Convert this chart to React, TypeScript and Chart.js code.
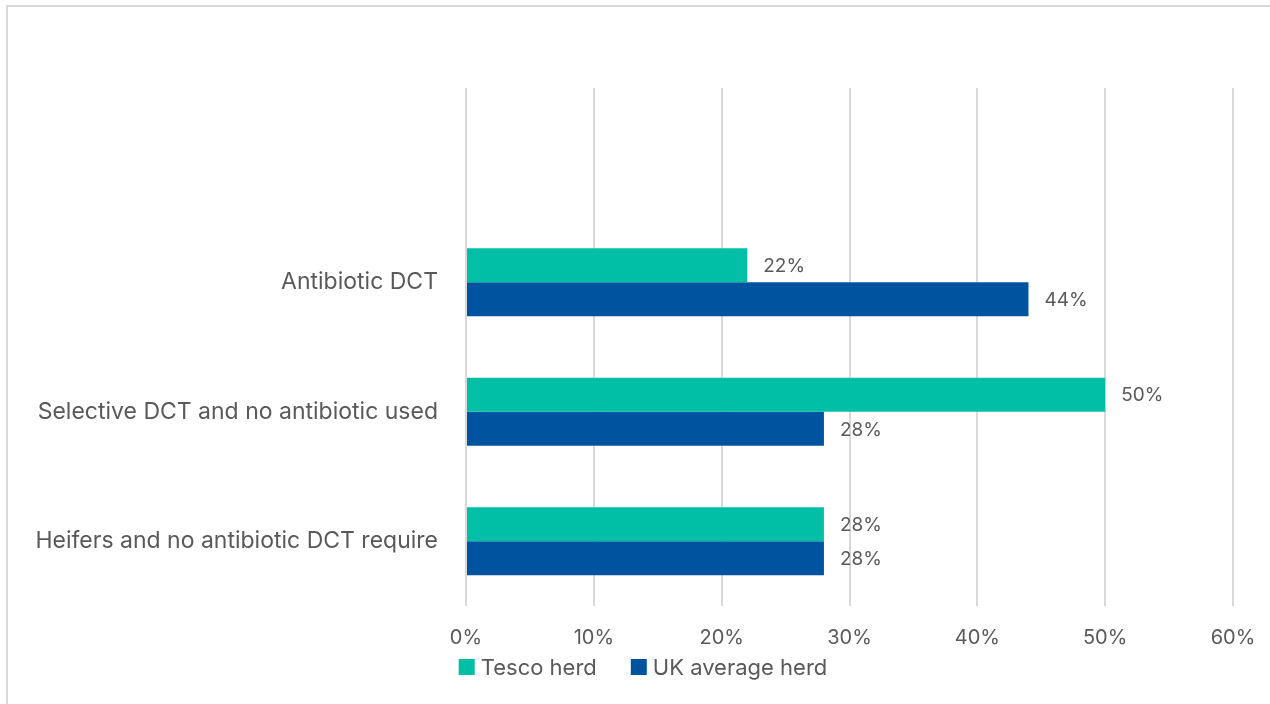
import React, { useEffect, useRef } from "react";
import { Chart, registerables } from "chart.js";

Chart.register(...registerables);

// Dry-cow therapy approach, share of herds (%)
const categories = [
  "",
  "Antibiotic DCT",
  "Selective DCT and no antibiotic used",
  "Heifers and no antibiotic DCT require",
];
const tescoHerd = [null, 22, 50, 28];
const ukAverageHerd = [null, 44, 28, 28];
const seriesNames = ["Tesco herd", "UK average herd"];
const xTicks = [0, 10, 20, 30, 40, 50, 60];

const TEAL = "#00bfa6";
const BLUE = "#00539f";
const TEXT = "#595959";
const GRID = "#d9d9d9";
const FONT = "Inter, 'Noto Sans', sans-serif";

// Writes each bar's value just past its end
const valueLabels = {
  id: "valueLabels",
  afterDatasetsDraw(chart: any) {
    const ctx = chart.ctx;
    ctx.save();
    ctx.font = `19px ${FONT}`;
    ctx.fillStyle = TEXT;
    ctx.textAlign = "left";
    ctx.textBaseline = "middle";
    chart.data.datasets.forEach((ds: any, i: number) => {
      const meta = chart.getDatasetMeta(i);
      meta.data.forEach((el: any, j: number) => {
        const v = ds.data[j];
        if (v === null || v === undefined) return;
        ctx.fillText(`${v}%`, el.x + 16, el.y + 1);
      });
    });
    ctx.restore();
  },
};

// Compact legend row under the axis labels: swatch, short gap, name
const bottomLegend = {
  id: "bottomLegend",
  afterDraw(chart: any) {
    const ctx = chart.ctx;
    const box = 16;
    const gap = 6;
    const itemGap = 34;
    const cy = 667;
    const centerX = 643;
    ctx.save();
    ctx.font = `22px ${FONT}`;
    ctx.textBaseline = "middle";
    ctx.textAlign = "left";
    const items = chart.data.datasets.map((ds: any) => ({
      label: ds.label,
      color: ds.backgroundColor,
      w: ctx.measureText(ds.label).width,
    }));
    const total =
      items.reduce((s: number, it: any) => s + box + gap + it.w, 0) +
      itemGap * (items.length - 1);
    let x = centerX - total / 2;
    items.forEach((it: any) => {
      ctx.fillStyle = it.color;
      ctx.fillRect(x, cy - box / 2, box, box);
      ctx.fillStyle = TEXT;
      ctx.fillText(it.label, x + box + gap, cy + 1);
      x += box + gap + it.w + itemGap;
    });
    ctx.restore();
  },
};

export default function App() {
  const canvasRef = useRef<HTMLCanvasElement | null>(null);

  useEffect(() => {
    if (!canvasRef.current) return;
    const chart = new Chart(canvasRef.current, {
      type: "bar",
      data: {
        labels: categories,
        datasets: [
          {
            label: seriesNames[0],
            data: tescoHerd,
            backgroundColor: TEAL,
            categoryPercentage: 0.527,
            barPercentage: 1,
          },
          {
            label: seriesNames[1],
            data: ukAverageHerd,
            backgroundColor: BLUE,
            categoryPercentage: 0.527,
            barPercentage: 1,
          },
        ],
      },
      options: {
        indexAxis: "y",
        animation: false,
        responsive: false,
        maintainAspectRatio: false,
        layout: { padding: { top: 88, right: 37, bottom: 34, left: 0 } },
        scales: {
          x: {
            min: xTicks[0],
            max: xTicks[xTicks.length - 1],
            afterBuildTicks: (scale: any) => {
              scale.ticks = xTicks.map((v) => ({ value: v }));
            },
            grid: { color: GRID, lineWidth: 2, drawTicks: false },
            border: { display: false },
            ticks: {
              padding: 12,
              color: TEXT,
              font: { family: FONT, size: 20, lineHeight: 2 },
              callback: (v: any) => `${v}%`,
            },
          },
          y: {
            grid: { display: false, drawTicks: false },
            border: { display: false },
            afterFit: (scale: any) => {
              scale.width = 466;
            },
            ticks: {
              padding: 28,
              color: TEXT,
              font: { family: FONT, size: 23 },
            },
          },
        },
        plugins: {
          legend: { display: false },
          tooltip: { enabled: false },
        },
      },
      plugins: [valueLabels, bottomLegend],
    } as any);
    return () => chart.destroy();
  }, []);

  return (
    <div
      style={{
        position: "fixed",
        left: 0,
        top: 0,
        width: 1270,
        height: 704,
        background: "#fff",
        overflow: "hidden",
      }}
    >
      <div
        style={{
          position: "absolute",
          left: 6,
          top: 5,
          width: 1280,
          height: 720,
          border: `2px solid ${GRID}`,
          boxSizing: "border-box",
        }}
      />
      <canvas
        ref={canvasRef}
        width={1270}
        height={704}
        style={{ position: "absolute", left: 0, top: 0 }}
      />
    </div>
  );
}
